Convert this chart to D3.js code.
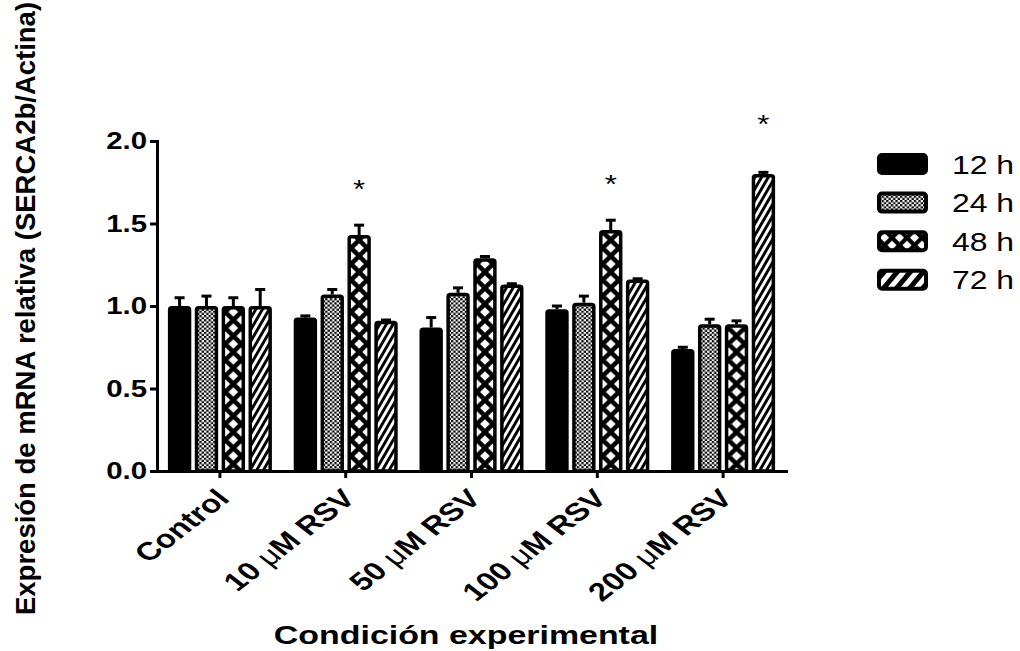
<!DOCTYPE html>
<html>
<head>
<meta charset="utf-8">
<script src="https://cdn.jsdelivr.net/npm/d3@7"></script>
<style>
  body { margin: 0; background: #fff; }
  svg { display: block; }
  text { font-family: "Liberation Sans", Arial, sans-serif; fill: #000; }
</style>
</head>
<body>
<svg id="chart" width="1020" height="651"></svg>
<script>
// Conditions on the x axis and time points (series)
const categories = ["Control", "10 μM RSV", "50 μM RSV", "100 μM RSV", "200 μM RSV"];
const seriesNames = ["12 h", "24 h", "48 h", "72 h"];

// Mean relative expression per condition, one array per time point
const mean12h = [1.00, 0.93, 0.87, 0.98, 0.74];
const mean24h = [1.00, 1.07, 1.08, 1.02, 0.89];
const mean48h = [1.00, 1.43, 1.29, 1.46, 0.89];
const mean72h = [1.00, 0.91, 1.13, 1.16, 1.80];

// Standard error (upper whisker only)
const sem12h = [0.05, 0.01, 0.06, 0.02, 0.01];
const sem24h = [0.06, 0.03, 0.03, 0.04, 0.03];
const sem48h = [0.05, 0.06, 0.01, 0.06, 0.02];
const sem72h = [0.10, 0.005, 0.005, 0.005, 0.01];

// Y axis ticks
const yTicks = [0.0, 0.5, 1.0, 1.5, 2.0];

// Significance marks: condition, series and height (in axis units)
const sigCategories = ["10 μM RSV", "100 μM RSV", "200 μM RSV"];
const sigSeries = ["48 h", "48 h", "72 h"];
const sigHeights = [1.745, 1.776, 2.14];

const means = [mean12h, mean24h, mean48h, mean72h];
const sems = [sem12h, sem24h, sem48h, sem72h];

const rows = [];
categories.forEach((c, ci) => {
  seriesNames.forEach((s, si) => {
    rows.push({ cat: c, series: s, si, value: means[si][ci], err: sems[si][ci] });
  });
});

const svg = d3.select("#chart");
const SX = 1.28;           // horizontal stretch applied to text glyphs
const SW = 3.5;            // bar outline width

const x0 = d3.scaleBand().domain(categories).range([157, 786]).padding(0);
const x1 = d3.scaleBand().domain(seriesNames).range([-52, 52]).paddingInner(0.13);
const y = d3.scaleLinear().domain([0, 2]).range([471, 141]);
const bw = x1.bandwidth();

// ---- fill patterns ----
const defs = svg.append("defs");

// 24 h: fine checkerboard
const p24 = defs.append("pattern").attr("id", "pat24")
  .attr("patternUnits", "userSpaceOnUse").attr("width", 4.6).attr("height", 4.2);
p24.append("rect").attr("width", 4.6).attr("height", 4.2).attr("fill", "#fff");
p24.append("rect").attr("width", 2.3).attr("height", 2.1).attr("fill", "#000");
p24.append("rect").attr("x", 2.3).attr("y", 2.1).attr("width", 2.3).attr("height", 2.1).attr("fill", "#000");

// 48 h: heavy cross hatch leaving white diamonds
function diamondPattern(id, period, half, xOff) {
  const p = defs.append("pattern").attr("id", id)
    .attr("patternUnits", "userSpaceOnUse")
    .attr("x", xOff).attr("y", 0)
    .attr("width", period).attr("height", period);
  p.append("rect").attr("width", period).attr("height", period).attr("fill", "#000");
  const centers = [[period / 2, period / 2], [0, 0], [period, 0], [0, period], [period, period]];
  centers.forEach(([cx, cy]) => {
    p.append("path")
      .attr("d", `M${cx},${cy - half}L${cx + half},${cy}L${cx},${cy + half}L${cx - half},${cy}Z`)
      .attr("fill", "#fff");
  });
}
diamondPattern("pat48", 16, 4.8, bw / 2 - 8);
diamondPattern("patLeg48", 15, 4.6, 0);

// 72 h: diagonal stripes
function stripePattern(id, period, white, angle) {
  const p = defs.append("pattern").attr("id", id)
    .attr("patternUnits", "userSpaceOnUse")
    .attr("width", period).attr("height", 20)
    .attr("patternTransform", `rotate(${angle})`);
  p.append("rect").attr("width", period).attr("height", 20).attr("fill", "#000");
  p.append("rect").attr("width", white).attr("height", 20).attr("fill", "#fff");
}
stripePattern("pat72", 5.8, 2.9, 30);
stripePattern("patLeg72", 10, 5, 40);

const fills = { "12 h": "#000", "24 h": "url(#pat24)", "48 h": "url(#pat48)", "72 h": "url(#pat72)" };
const legendFills = { "12 h": "#000", "24 h": "url(#pat24)", "48 h": "url(#patLeg48)", "72 h": "url(#patLeg72)" };

// ---- bars ----
const bars = svg.append("g").attr("class", "bars")
  .selectAll("g").data(rows).join("g")
  .attr("transform", d => `translate(${x0(d.cat) + x0.bandwidth() / 2 + x1(d.series)},0)`);

bars.append("rect")
  .attr("x", SW / 2)
  .attr("y", d => y(d.value) + SW / 2)
  .attr("width", bw - SW)
  .attr("height", d => y(0) - y(d.value) - SW / 2)
  .attr("rx", 2)
  .attr("fill", d => fills[d.series])
  .attr("stroke", "#000")
  .attr("stroke-width", SW)
  .attr("stroke-linejoin", "round");

// error bars (upper only)
bars.append("line")
  .attr("x1", bw / 2).attr("x2", bw / 2)
  .attr("y1", d => y(d.value))
  .attr("y2", d => y(d.value + d.err))
  .attr("stroke", "#000").attr("stroke-width", 3);
bars.append("line")
  .attr("x1", bw / 2 - 5).attr("x2", bw / 2 + 5)
  .attr("y1", d => y(d.value + d.err))
  .attr("y2", d => y(d.value + d.err))
  .attr("stroke", "#000").attr("stroke-width", 3);

// ---- axes ----
const yAxis = svg.append("g").attr("transform", "translate(157,0)")
  .call(d3.axisLeft(y).tickValues(yTicks).tickFormat(d3.format(".1f")).tickSize(7).tickSizeOuter(0));
yAxis.select(".domain").attr("stroke-width", 3).attr("stroke-linecap", "square");
yAxis.selectAll(".tick line").attr("stroke-width", 3);
yAxis.selectAll(".tick text")
  .attr("font-family", "Liberation Sans, Arial, sans-serif")
  .attr("font-size", 23.5).attr("font-weight", "bold")
  .attr("x", -10 / 1.25)
  .attr("transform", "scale(1.25,1)");

const xAxis = svg.append("g").attr("transform", "translate(0,471)")
  .call(d3.axisBottom(x0).tickSize(7).tickSizeOuter(0));
xAxis.select(".domain").attr("stroke-width", 3).attr("stroke-linecap", "square");
xAxis.selectAll(".tick line").attr("stroke-width", 3);
xAxis.selectAll(".tick text")
  .attr("font-family", "Liberation Sans, Arial, sans-serif")
  .attr("font-size", 25.5).attr("font-weight", "bold")
  .attr("text-anchor", "end")
  .attr("x", 0).attr("y", 0).attr("dy", 0)
  .attr("transform", `translate(11,29) scale(1.29,1) rotate(-45)`)
  .each(function (d) {
    const t = d3.select(this);
    t.text(null);
    const parts = d.split("μ");
    t.append("tspan").text(parts[0]);
    if (parts.length > 1) {
      t.append("tspan").attr("font-weight", "normal").text("μ");
      t.append("tspan").text(parts[1]);
    }
  });

// ---- significance marks ----
svg.append("g").selectAll("text")
  .data(sigCategories.map((c, i) => ({ cat: c, series: sigSeries[i], h: sigHeights[i] })))
  .join("text")
  .attr("text-anchor", "middle")
  .attr("font-size", 26)
  .attr("transform", d => `translate(${x0(d.cat) + x0.bandwidth() / 2 + x1(d.series) + bw / 2},${y(d.h) + 15}) scale(1.2,1)`)
  .text("*");

// ---- axis titles ----
svg.append("text")
  .attr("transform", `translate(466,644) scale(${SX},1)`)
  .attr("text-anchor", "middle")
  .attr("font-size", 26.5).attr("font-weight", "bold")
  .text("Condición experimental");

svg.append("text")
  .attr("transform", "translate(35,615) scale(1.02,1) rotate(-90)")
  .attr("text-anchor", "start")
  .attr("font-size", 27.5).attr("font-weight", "bold")
  .text("Expresión de mRNA relativa (SERCA2b/Actina)");

// ---- legend ----
const legend = svg.append("g").attr("transform", "translate(877,153)")
  .selectAll("g").data(seriesNames).join("g")
  .attr("transform", (d, i) => `translate(0,${i * 38.6})`);
legend.append("rect")
  .attr("x", 2).attr("y", 2).attr("width", 47).attr("height", 18)
  .attr("rx", 3)
  .attr("fill", d => legendFills[d])
  .attr("stroke", "#000").attr("stroke-width", 4);
legend.append("text")
  .attr("transform", `translate(75,20.5) scale(1.25,1)`)
  .attr("font-size", 25.5)
  .text(d => d);
</script>
</body>
</html>
